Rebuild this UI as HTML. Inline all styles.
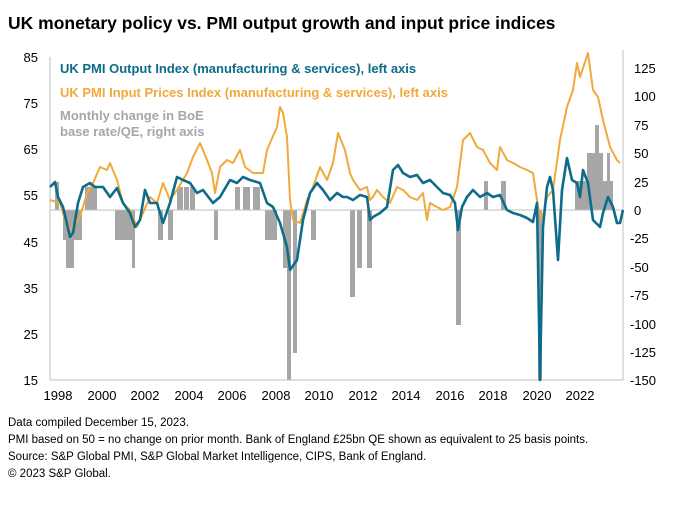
<!DOCTYPE html>
<html><head><meta charset="utf-8"><style>
body{margin:0;background:#fff;}
svg{display:block;font-family:"Liberation Sans",Arial,sans-serif;}
</style></head><body>
<svg width="687" height="508" viewBox="0 0 687 508" xmlns="http://www.w3.org/2000/svg">
<text x="8" y="29" font-size="17.5" font-weight="bold" fill="#000">UK monetary policy vs. PMI output growth and input price indices</text>
<!-- grey bars -->
<g fill="#a6a6a6">
<rect x="55" y="182" width="4" height="28"/>
<rect x="63" y="210" width="19" height="30"/>
<rect x="66" y="210" width="8" height="58"/>
<rect x="85" y="187" width="12" height="23"/>
<rect x="115" y="210" width="18" height="30"/>
<rect x="132" y="210" width="3" height="58"/>
<rect x="158" y="210" width="5" height="30"/>
<rect x="168" y="210" width="5" height="30"/>
<rect x="177" y="187" width="6" height="23"/><rect x="184" y="187" width="5" height="23"/><rect x="190" y="187" width="5" height="23"/>
<rect x="214" y="210" width="4" height="30"/>
<rect x="235" y="187" width="5" height="23"/><rect x="243" y="187" width="7" height="23"/><rect x="253" y="187" width="7" height="23"/>
<rect x="265" y="210" width="12" height="30"/>
<rect x="283" y="210" width="5" height="58"/>
<rect x="287" y="210" width="4" height="170"/>
<rect x="293" y="210" width="4" height="143"/>
<rect x="311" y="210" width="5" height="30"/>
<rect x="350" y="210" width="5" height="87"/>
<rect x="357" y="210" width="5" height="58"/>
<rect x="367" y="210" width="5" height="58"/>
<rect x="456" y="210" width="5" height="115"/>
<rect x="484" y="181" width="4" height="29"/>
<rect x="501" y="181" width="5" height="29"/>
<rect x="538" y="210" width="4" height="170"/>
<rect x="575" y="181" width="12" height="29"/>
<rect x="587" y="153" width="16" height="57"/>
<rect x="595" y="125" width="4" height="85"/>
<rect x="603" y="181" width="4" height="29"/>
<rect x="607" y="153" width="3" height="57"/>
<rect x="610" y="181" width="3" height="29"/>
</g>
<line x1="50" y1="210" x2="623" y2="210" stroke="#bfbfbf" stroke-width="1"/>
<!-- axes -->
<line x1="50" y1="57" x2="50" y2="380" stroke="#bfbfbf"/>
<line x1="623" y1="50" x2="623" y2="380" stroke="#bfbfbf"/>
<line x1="50" y1="380" x2="623" y2="380" stroke="#bfbfbf"/>
<!-- orange -->
<polyline fill="none" stroke="#f2a93b" stroke-width="2" stroke-linejoin="round" points="50,200 60,203 67,227 70,230 80,217 87,193 93,183 100,167 107,170 110,163 117,180 123,203 130,210 137,227 143,213 150,197 157,203 163,183 170,200 177,190 187,173 193,157 200,143 207,160 212,173 215,193 220,167 227,160 233,163 240,150 245,167 253,173 263,173 267,150 277,127 280,107 283,113 287,137 290,200 293,220 300,223 307,200 313,187 320,167 327,180 333,163 338,133 345,150 350,173 353,180 360,190 367,187 370,200 373,197 377,190 383,197 390,203 397,187 403,190 410,197 417,200 423,193 427,220 430,203 437,207 443,210 450,207 457,187 463,140 470,133 477,147 483,150 490,163 497,170 500,147 507,160 513,163 520,167 527,170 533,173 538,207 542,220 547,197 553,190 560,140 567,107 573,90 577,63 580,77 588,53 593,90 598,97 603,120 610,147 617,160 620,163"/>
<!-- teal -->
<polyline fill="none" stroke="#0d6c8a" stroke-width="2.6" stroke-linejoin="round" points="50,187 55,182 58,197 63,207 70,237 73,233 78,203 83,187 90,183 95,187 103,187 110,197 117,188 123,203 130,213 135,227 140,220 145,190 150,203 157,203 163,223 170,203 177,177 183,180 190,183 197,193 203,190 213,203 220,197 230,180 237,183 243,177 250,180 260,183 267,203 273,207 280,223 287,247 290,270 297,260 303,220 310,193 317,183 323,190 330,200 337,193 343,197 347,197 353,200 360,195 367,197 370,220 373,217 380,213 387,207 393,170 398,165 403,173 410,177 417,175 423,183 430,180 437,187 443,193 450,195 455,203 458,230 462,207 467,197 473,190 480,197 487,193 493,197 500,195 507,210 513,213 520,215 527,218 533,222 537,203 540,380 543,227 547,187 550,177 553,190 558,260 562,190 567,158 572,180 577,183 580,197 583,170 588,183 593,220 600,227 603,213 608,197 613,207 617,223 620,223 623,210"/>
<!-- legend -->
<text x="60" y="73" font-size="13" font-weight="bold" fill="#0d6c8a">UK PMI Output Index (manufacturing &amp; services), left axis</text>
<text x="60" y="97" font-size="13" font-weight="bold" fill="#f2a93b">UK PMI Input Prices Index (manufacturing &amp; services), left axis</text>
<text x="60" y="120" font-size="13" font-weight="bold" fill="#a6a6a6">Monthly change in BoE</text>
<text x="60" y="136" font-size="13" font-weight="bold" fill="#a6a6a6">base rate/QE, right axis</text>
<!-- left ticks -->
<g font-size="13" fill="#000" text-anchor="end">
<text x="38" y="62">85</text><text x="38" y="108">75</text><text x="38" y="154">65</text><text x="38" y="200">55</text><text x="38" y="247">45</text><text x="38" y="293">35</text><text x="38" y="339">25</text><text x="38" y="385">15</text>
</g>
<g font-size="13" fill="#000" text-anchor="start">
<text x="634" y="73">125</text><text x="634" y="101">100</text><text x="634" y="130">75</text><text x="634" y="158">50</text><text x="634" y="187">25</text><text x="634" y="215">0</text><text x="630" y="243">-25</text><text x="630" y="272">-50</text><text x="630" y="300">-75</text><text x="630" y="329">-100</text><text x="630" y="357">-125</text><text x="630" y="385">-150</text>
</g>
<g font-size="13" fill="#000" text-anchor="middle">
<text x="58" y="400">1998</text><text x="102" y="400">2000</text><text x="145" y="400">2002</text><text x="189" y="400">2004</text><text x="232" y="400">2006</text><text x="276" y="400">2008</text><text x="319" y="400">2010</text><text x="363" y="400">2012</text><text x="406" y="400">2014</text><text x="450" y="400">2016</text><text x="493" y="400">2018</text><text x="537" y="400">2020</text><text x="580" y="400">2022</text>
</g>
<g font-size="11.5" fill="#000">
<text x="8" y="426">Data compiled December 15, 2023.</text>
<text x="8" y="443">PMI based on 50 = no change on prior month. Bank of England £25bn QE shown as equivalent to 25 basis points.</text>
<text x="8" y="460">Source: S&amp;P Global PMI, S&amp;P Global Market Intelligence, CIPS, Bank of England.</text>
<text x="8" y="477">© 2023 S&amp;P Global.</text>
</g>
</svg>
</body></html>
